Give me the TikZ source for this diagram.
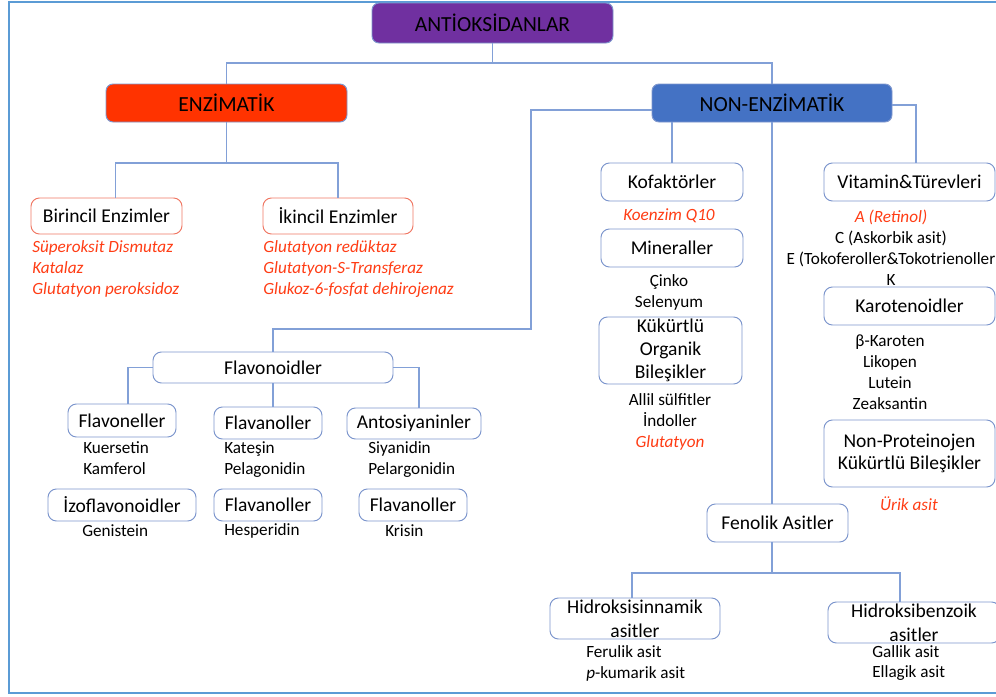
\documentclass[tikz,border=0pt]{standalone}
\usepackage{fontspec}
\setmainfont{Carlito}
\usetikzlibrary{calc}
\definecolor{rootpurple}{RGB}{112,48,160}
\definecolor{enzred}{RGB}{255,51,0}
\definecolor{nonblue}{RGB}{68,114,196}
\definecolor{boxline}{RGB}{125,150,205}
\definecolor{enzline}{RGB}{240,120,100}
\definecolor{connline}{RGB}{130,160,215}
\definecolor{framebl}{RGB}{91,155,213}
\definecolor{itemred}{RGB}{255,60,20}
\newcommand{\pxu}{0.025cm}
\tikzset{
    topbox/.style={draw=boxline,line width=0.7pt,rounded corners=5pt,inner sep=0pt,font=\fontsize{15.3}{18}\selectfont},
    subbox/.style={draw=boxline,line width=0.7pt,fill=white,rounded corners=6pt,inner sep=0pt,align=center,font=\fontsize{13.9}{17}\selectfont},
    enzbox/.style={subbox,draw=enzline},
    item/.style={inner sep=0pt,font=\fontsize{12.2}{14.9}\selectfont},
    reditem/.style={inner sep=0pt,text=itemred,font=\fontsize{12.2}{14.9}\selectfont\itshape},
    conn/.style={draw=connline,line width=0.8pt},
    frame/.style={draw=framebl,line width=1.5pt}
}

\begin{document}
\begin{tikzpicture}[x=0.025cm,y=-0.025cm]
    \useasboundingbox (0,0) rectangle (996,697);
    \draw[frame] (1000,2) -| (9,693) -- (1000,693);

    % top levels
    \node[topbox,fill=rootpurple,minimum width={241*\pxu},minimum height={40*\pxu}] (root) at (492.5,23) {ANTİOKSİDANLAR};
    \node[topbox,fill=enzred,minimum width={241*\pxu},minimum height={38*\pxu}] (enz) at (226.5,103) {ENZİMATİK};
    \node[topbox,fill=nonblue,minimum width={240*\pxu},minimum height={38*\pxu}] (nonenz) at (772,103) {NON-ENZİMATİK};

    % enzimatik
    \node[enzbox,minimum width={151*\pxu},minimum height={36*\pxu}] (birincil) at (106.5,216) {Birincil Enzimler};
    \node[enzbox,minimum width={150*\pxu},minimum height={36*\pxu}] (ikincil) at (338,216) {İkincil Enzimler};
    \node[reditem,anchor=west,align=left] (birlist) at (32,269) {Süperoksit Dismutaz\\Katalaz\\Glutatyon peroksidoz};
    \node[reditem,anchor=west,align=left] (ikilist) at (263,269) {Glutatyon redüktaz\\Glutatyon-S-Transferaz\\Glukoz-6-fosfat dehirojenaz};

    % kofaktor column
    \node[subbox,minimum width={142*\pxu},minimum height={38*\pxu}] (kof) at (672,182) {Kofaktörler};
    \node[reditem] (kofitem) at (669,216) {Koenzim Q10};
    \node[subbox,minimum width={142*\pxu},minimum height={38*\pxu}] (mineral) at (672,248) {Mineraller};
    \node[item,align=center] (minlist) at (669,292.5) {Çinko\\Selenyum};
    \node[subbox,minimum width={143*\pxu},minimum height={67*\pxu},font=\fontsize{13.9}{16.3}\selectfont] (kukurt) at (670.5,350.5) {Kükürtlü\\Organik\\Bileşikler};
    \node[item,align=center] (kuklist) at (670,422) {Allil sülfitler\\İndoller\\{\color{itemred}\itshape Glutatyon}};

    % vitamin column
    \node[subbox,minimum width={171*\pxu},minimum height={38*\pxu}] (vit) at (909.5,182) {Vitamin\&Türevleri};
    \node[item,align=center] (vitlist) at (891,247.5) {{\color{itemred}\itshape A (Retinol)}\\C (Askorbik asit)\\E (Tokoferoller\&Tokotrienoller\\K};
    \node[subbox,minimum width={171*\pxu},minimum height={38*\pxu}] (karo) at (909.5,306) {Karotenoidler};
    \node[item,align=center] (karolist) at (890,372) {β-Karoten\\Likopen\\Lutein\\Zeaksantin};
    \node[subbox,minimum width={171*\pxu},minimum height={67*\pxu},font=\fontsize{13.9}{15.6}\selectfont] (nonprot) at (909.5,453.5) {Non-Proteinojen\\Kükürtlü Bileşikler};
    \node[reditem] (nonprotitem) at (909,504) {Ürik asit};

    % fenolik asitler
    \node[subbox,minimum width={141*\pxu},minimum height={38*\pxu}] (fenol) at (777.5,523) {Fenolik Asitler};
    \node[subbox,minimum width={170*\pxu},minimum height={41*\pxu}] (hsin) at (635,618.5) {Hidroksisinnamik\\asitler};
    \node[subbox,minimum width={172*\pxu},minimum height={41*\pxu}] (hben) at (914,622.5) {Hidroksibenzoik\\asitler};
    \node[item,anchor=west,align=left] (hsinlist) at (586,663) {Ferulik asit\\\textit{p}-kumarik asit};
    \node[item,anchor=west,align=left] (hbenlist) at (872,663) {Gallik asit\\Ellagik asit};

    % flavonoidler
    \node[subbox,minimum width={240*\pxu},minimum height={31*\pxu}] (flavo) at (273,367.5) {Flavonoidler};
    \node[subbox,minimum width={108*\pxu},minimum height={33*\pxu}] (flavon) at (122,420.5) {Flavoneller};
    \node[subbox,minimum width={108*\pxu},minimum height={32*\pxu}] (flavan1) at (268,423) {Flavanoller};
    \node[subbox,minimum width={134*\pxu},minimum height={31*\pxu}] (anto) at (414,423.5) {Antosiyaninler};
    \node[subbox,minimum width={148*\pxu},minimum height={32*\pxu}] (izo) at (122,505) {İzoflavonoidler};
    \node[subbox,minimum width={108*\pxu},minimum height={32*\pxu}] (flavan2) at (268,505) {Flavanoller};
    \node[subbox,minimum width={108*\pxu},minimum height={32*\pxu}] (flavan3) at (413,505) {Flavanoller};
    \node[item,anchor=west,align=left] (flavonlist) at (83,458.5) {Kuersetin\\Kamferol};
    \node[item,anchor=west,align=left] (flavan1list) at (224,460) {Kateşin\\Pelagonidin};
    \node[item,anchor=west,align=left] (antolist) at (368,459.5) {Siyanidin\\Pelargonidin};
    \node[item,anchor=west] (izolist) at (82,531) {Genistein};
    \node[item,anchor=west] (flavan2list) at (224,531) {Hesperidin};
    \node[item,anchor=west] (flavan3list) at (385,531) {Krisin};

    % connectors
    \coordinate (rootbus) at (492.5,63);
    \coordinate (enzbus) at (226.5,163);
    \coordinate (flavbus) at (531,329);
    \coordinate (fenbus) at (772,573);
    \draw[conn] (root.south) -- (rootbus) -| (enz.north);
    \draw[conn] (rootbus) -| (nonenz.north);
    \draw[conn] (enz.south) -- (enzbus) -| ($(birincil.north)+(9,0)$);
    \draw[conn] (enzbus) -| (ikincil.north);
    \draw[conn] ($(nonenz.west)+(0,7)$) -| (flavbus) -| (flavo.north);
    \draw[conn] (nonenz.south -| kof.north) -- (kof.north);
    \draw[conn] ($(nonenz.east)+(0,2)$) -| ($(vit.north)+(6.5,0)$);
    \draw[conn] (nonenz.south) -- (nonenz.south |- fenol.north);
    \draw[conn] (nonenz.south |- fenol.south) -- (fenbus);
    \draw[conn] (fenbus) -| ($(hsin.north)+(-3,0)$);
    \draw[conn] (fenbus) -| ($(hben.north)+(-14,0)$);
    \draw[conn] (flavo.west) -| ($(flavon.north)+(6,0)$);
    \draw[conn] (flavo.south) -- (flavo.south |- flavan1.north);
    \draw[conn] (flavo.east) -| ($(anto.north)+(5,0)$);
\end{tikzpicture}
\end{document}
